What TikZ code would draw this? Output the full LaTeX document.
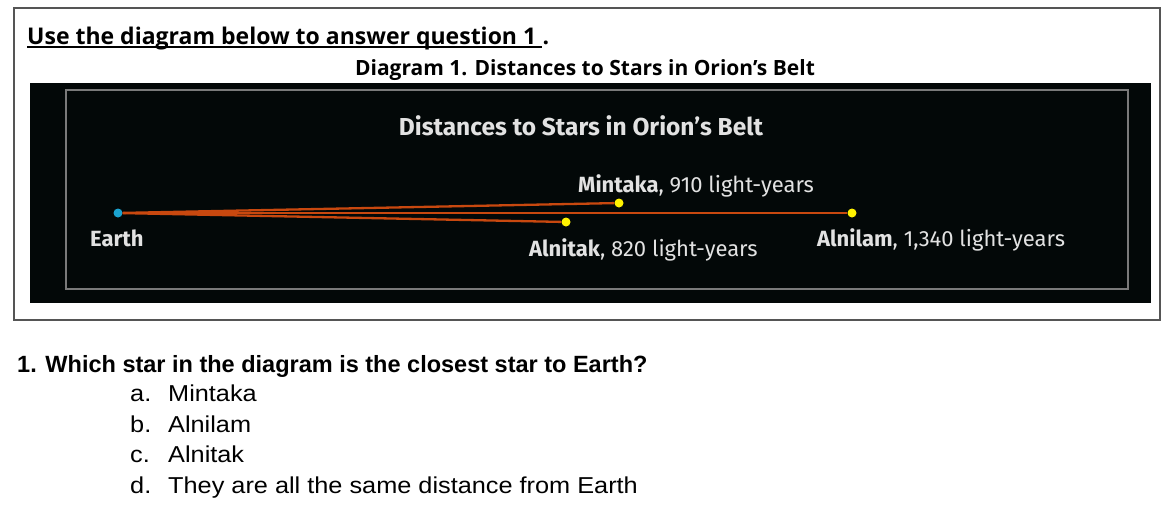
\documentclass[tikz,border=0pt]{standalone}
\usepackage{fontspec}
\setmainfont{Liberation Sans}
\newfontfamily\headfont{Open Sans}
\newfontfamily\panelfont{Fira Sans}
\usetikzlibrary{positioning}

\definecolor{panelbg}{HTML}{030808}
\definecolor{framegray}{HTML}{7A7A7A}
\definecolor{boxgray}{HTML}{555555}
\definecolor{beam}{HTML}{C8480F}
\definecolor{stardot}{HTML}{FFF200}
\definecolor{earthdot}{HTML}{1AA3D0}
\definecolor{labelgray}{HTML}{E2E2E2}

\tikzset{
  beltstar/.style={circle, fill=stardot, inner sep=0pt, minimum size=9pt},
  beamline/.style={beam, line width=2.3pt},
  starlabel/.style={anchor=base west, inner sep=0pt, text=labelgray,
    font=\panelfont\fontsize{22}{26}\selectfont},
  choice/.style={anchor=base west, inner sep=0pt,
    font=\addfontfeature{FakeStretch=1.1}\fontsize{23}{27}\selectfont}
}

\begin{document}
\begin{tikzpicture}[x=1pt,y=-1pt]
    \useasboundingbox (0,0) rectangle (1174,504);
    \fill[white] (0,0) rectangle (1174,504);
    \draw[boxgray, line width=1.5pt] (14,8) rectangle (1160,320);

    \node[anchor=base west, inner sep=0pt, font=\headfont\bfseries\fontsize{23}{27}\selectfont]
        (task) at (27,44) {Use the diagram below to answer question 1\hspace*{6pt}};
    \node[anchor=base west, inner sep=0pt, font=\headfont\bfseries\fontsize{23}{27}\selectfont]
        (taskdot) at (task.base east) {.};
    \draw[line width=1.4pt] ([yshift=-3pt]task.base west) -- ([yshift=-3pt]task.base east);
    \node[anchor=base, inner sep=0pt, font=\headfont\bfseries\fontsize{21}{25}\selectfont]
        (caption) at (585,75) {Diagram 1. Distances to Stars in Orion’s Belt};

    \fill[panelbg] (30,83) rectangle (1151,303);
    \draw[framegray, line width=1.5pt] (66,90) rectangle (1128,289);
    \node[anchor=base, inner sep=0pt, text=labelgray, font=\panelfont\bfseries\fontsize{24.5}{28}\selectfont]
        (title) at (581,135) {Distances to Stars in Orion’s Belt};

    \node[circle, fill=earthdot, inner sep=0pt, minimum size=9pt] (earth) at (118,213) {};
    \node[beltstar] (mintaka) at (619,203) {};
    \node[beltstar] (alnilam) at (852,213) {};
    \node[beltstar] (alnitak) at (566,222) {};

    \draw[beamline] (earth) -- (mintaka);
    \draw[beamline] (earth) -- (alnilam);
    \draw[beamline] (earth) -- (alnitak);

    \node[starlabel] (earthlabel) at (90,246) {\textbf{Earth}};
    \node[starlabel] (mintakalabel) at (578,192) {\textbf{Mintaka}, 910 light-years};
    \node[starlabel] (alnitaklabel) at (529,256) {\textbf{Alnitak}, 820 light-years};
    \node[starlabel] (alnilamlabel) at (817,246) {\textbf{Alnilam}, 1,340 light-years};

    \node[anchor=base west, inner sep=0pt, font=\bfseries\fontsize{23.5}{27}\selectfont]
        (question) at (17,372) {1. Which star in the diagram is the closest star to Earth?};
    \foreach \letter/\answer [count=\i] in {a/Mintaka, b/Alnilam, c/Alnitak, d/They are all the same distance from Earth}
        \node[choice] (choice\i) at (130,{371+30.5*\i}) {\makebox[38pt][l]{\letter.}\answer};

\end{tikzpicture}
\end{document}
